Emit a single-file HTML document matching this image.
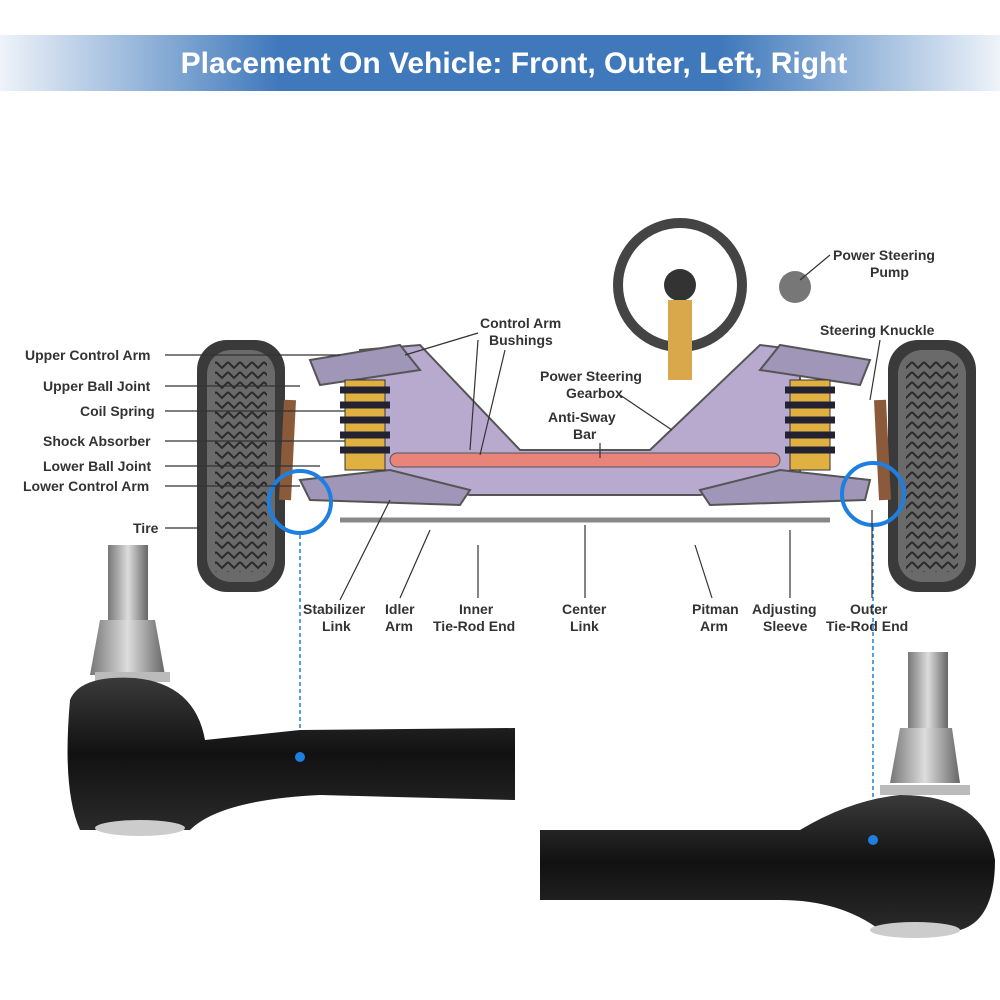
<!DOCTYPE html>
<html><head><meta charset="utf-8"><style>
body{margin:0;background:#fff;}
svg{display:block;font-family:"Liberation Sans",sans-serif;}
.l{font-size:14px;font-weight:bold;fill:#333;}
</style></head><body>
<svg width="1000" height="1000" viewBox="0 0 1000 1000">
<defs>
<linearGradient id="hd" x1="0" x2="1"><stop offset="0" stop-color="#eef3f9"/><stop offset="0.28" stop-color="#3f78bb"/><stop offset="0.72" stop-color="#3f78bb"/><stop offset="1" stop-color="#eef3f9"/></linearGradient>
<linearGradient id="blk" x1="0" y1="0" x2="0" y2="1"><stop offset="0" stop-color="#3a3a3a"/><stop offset="0.5" stop-color="#111"/><stop offset="1" stop-color="#2a2a2a"/></linearGradient>
<linearGradient id="stud" x1="0" x2="1"><stop offset="0" stop-color="#777"/><stop offset="0.5" stop-color="#ddd"/><stop offset="1" stop-color="#666"/></linearGradient>
<pattern id="tread" width="12" height="10" patternUnits="userSpaceOnUse"><path d="M0,2 L6,8 L12,2" stroke="#2a2a2a" stroke-width="2" fill="none"/></pattern>
</defs>
<rect x="0" y="35" width="1000" height="56" fill="url(#hd)"/>
<text x="514" y="73" text-anchor="middle" font-size="30" font-weight="bold" fill="#fff">Placement On Vehicle: Front, Outer, Left, Right</text>

<!-- tires -->
<rect x="197" y="340" width="88" height="252" rx="30" fill="#3a3a3a"/>
<rect x="207" y="350" width="68" height="232" rx="24" fill="#6a6a6a"/>
<rect x="215" y="360" width="52" height="212" fill="url(#tread)"/>
<rect x="888" y="340" width="88" height="252" rx="30" fill="#3a3a3a"/>
<rect x="898" y="350" width="68" height="232" rx="24" fill="#6a6a6a"/>
<rect x="906" y="360" width="52" height="212" fill="url(#tread)"/>
<!-- frame -->
<polygon points="360,350 420,345 520,450 650,450 760,345 800,350 800,480 700,495 470,495 380,480" fill="#b8a9cf" stroke="#555" stroke-width="2"/>
<polygon points="300,480 390,470 470,490 460,505 310,500" fill="#a096b8" stroke="#555" stroke-width="2"/>
<polygon points="700,490 780,470 870,480 865,500 710,505" fill="#a096b8" stroke="#555" stroke-width="2"/>
<polygon points="310,360 400,345 420,370 320,385" fill="#a096b8" stroke="#555" stroke-width="2"/>
<polygon points="780,345 870,360 860,385 760,370" fill="#a096b8" stroke="#555" stroke-width="2"/>
<rect x="390" y="453" width="390" height="14" rx="7" fill="#e8847a" stroke="#555"/>
<rect x="345" y="380" width="40" height="90" fill="#e0b040" stroke="#333"/>
<rect x="790" y="380" width="40" height="90" fill="#e0b040" stroke="#333"/>
<g stroke="#223" stroke-width="7" fill="none"><path d="M340,390h50M340,405h50M340,420h50M340,435h50M340,450h50"/><path d="M785,390h50M785,405h50M785,420h50M785,435h50M785,450h50"/></g>
<line x1="340" y1="520" x2="830" y2="520" stroke="#888" stroke-width="5"/>
<circle cx="680" cy="285" r="62" fill="none" stroke="#444" stroke-width="10"/>
<circle cx="680" cy="285" r="16" fill="#333"/>
<rect x="668" y="300" width="24" height="80" fill="#d9a84a"/>
<circle cx="795" cy="287" r="16" fill="#777"/>
<path d="M290,400 L285,500" stroke="#8a5a3a" stroke-width="12"/>
<path d="M880,400 L885,500" stroke="#8a5a3a" stroke-width="12"/>
<!-- blue circles -->
<circle cx="300" cy="502" r="31" fill="none" stroke="#1e7fe0" stroke-width="4"/>
<circle cx="873" cy="494" r="31" fill="none" stroke="#1e7fe0" stroke-width="4"/>
<line x1="300" y1="535" x2="300" y2="755" stroke="#1e7fe0" stroke-width="1.5" stroke-dasharray="4,3"/>
<line x1="873" y1="527" x2="873" y2="838" stroke="#1e7fe0" stroke-width="1.5" stroke-dasharray="4,3"/>

<!-- labels -->
<g class="l">
<text x="25" y="360">Upper Control Arm</text>
<text x="43" y="391">Upper Ball Joint</text>
<text x="80" y="416">Coil Spring</text>
<text x="43" y="446">Shock Absorber</text>
<text x="43" y="471">Lower Ball Joint</text>
<text x="23" y="491">Lower Control Arm</text>
<text x="133" y="533">Tire</text>
<text x="480" y="328">Control Arm</text>
<text x="489" y="345">Bushings</text>
<text x="540" y="381">Power Steering</text>
<text x="566" y="398">Gearbox</text>
<text x="548" y="422">Anti-Sway</text>
<text x="573" y="439">Bar</text>
<text x="833" y="260">Power Steering</text>
<text x="870" y="277">Pump</text>
<text x="820" y="335">Steering Knuckle</text>
<text x="303" y="614">Stabilizer</text>
<text x="322" y="631">Link</text>
<text x="385" y="614">Idler</text>
<text x="385" y="631">Arm</text>
<text x="459" y="614">Inner</text>
<text x="433" y="631">Tie-Rod End</text>
<text x="562" y="614">Center</text>
<text x="570" y="631">Link</text>
<text x="692" y="614">Pitman</text>
<text x="700" y="631">Arm</text>
<text x="752" y="614">Adjusting</text>
<text x="763" y="631">Sleeve</text>
<text x="850" y="614">Outer</text>
<text x="826" y="631">Tie-Rod End</text>
</g>
<g stroke="#333" stroke-width="1.2" fill="none"><line x1="165" y1="355" x2="340" y2="355"/><line x1="165" y1="386" x2="300" y2="386"/><line x1="165" y1="411" x2="345" y2="411"/><line x1="165" y1="441" x2="345" y2="441"/><line x1="165" y1="466" x2="320" y2="466"/><line x1="165" y1="486" x2="300" y2="486"/><line x1="165" y1="528" x2="200" y2="528"/>
<path d="M478,333 L405,355 M478,340 L470,450 M505,350 L480,455 M620,395 L672,430 M600,443 L600,458 M830,255 L800,280 M880,340 L870,400 M340,600 L390,500 M400,598 L430,530 M478,598 L478,545 M585,598 L585,525 M712,598 L695,545 M790,598 L790,530 M872,598 L872,510"/></g>

<!-- left tie rod end -->
<path d="M108,545h40v80h-40z" fill="url(#stud)"/>
<path d="M100,620h55l10,55h-75z" fill="url(#stud)"/>
<rect x="95" y="672" width="75" height="10" fill="#bbb"/>
<path d="M70,700 Q80,675 135,678 Q195,684 205,740 L300,730 L515,728 L515,800 L320,795 Q220,800 190,830 L80,830 Q62,790 70,700z" fill="url(#blk)"/>
<ellipse cx="140" cy="828" rx="45" ry="8" fill="#ccc"/>
<circle cx="300" cy="757" r="5" fill="#1e7fe0"/>
<!-- right tie rod end -->
<path d="M908,652h40v80h-40z" fill="url(#stud)"/>
<path d="M900,728h52l8,55h-70z" fill="url(#stud)"/>
<rect x="880" y="785" width="90" height="10" fill="#bbb"/>
<path d="M540,830 L800,830 Q850,800 900,795 Q985,795 995,860 Q995,920 960,930 L880,930 Q840,900 780,900 L540,900z" fill="url(#blk)"/>
<ellipse cx="915" cy="930" rx="45" ry="8" fill="#ccc"/>
<circle cx="873" cy="840" r="5" fill="#1e7fe0"/>
</svg>
</body></html>
